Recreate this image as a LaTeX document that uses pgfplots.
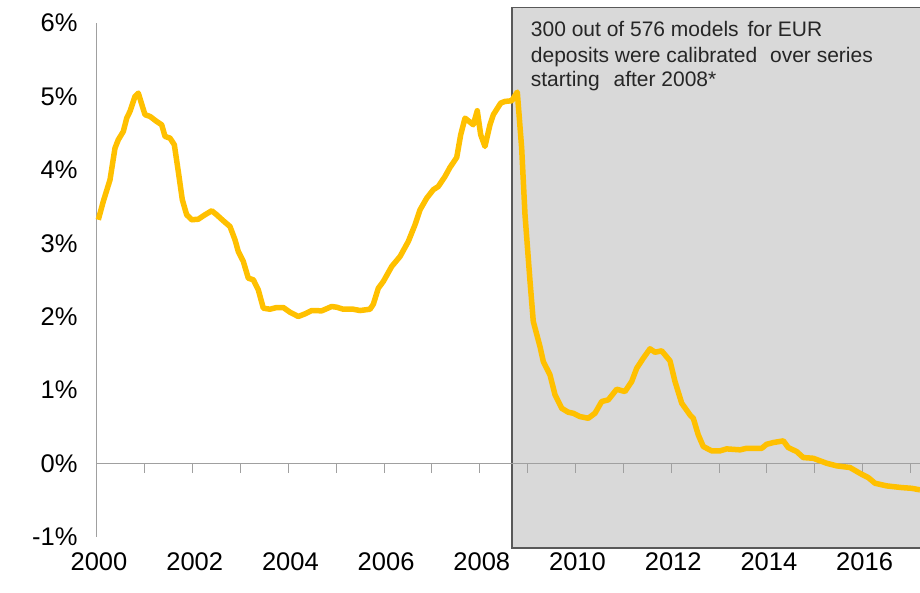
\documentclass[border=0pt]{standalone}
\usepackage{pgfplots}
\pgfplotsset{compat=1.18}
\usepackage{fontspec}
\setmainfont{Liberation Sans}
\definecolor{gold}{HTML}{FFC000}
\definecolor{boxgray}{HTML}{D9D9D9}
\definecolor{boxedge}{HTML}{595959}
\definecolor{axgray}{HTML}{A0A0A0}
\definecolor{txt}{HTML}{262626}
\begin{document}
\begin{tikzpicture}
\path[use as bounding box] (-97pt,-56pt) rectangle (823pt,537pt);
\begin{axis}[
  at={(0pt,0pt)}, anchor=south west,
  scale only axis, width=823pt, height=514pt,
  xmin=2000, xmax=2017.2, ymin=-1, ymax=6,
  clip=false,
  axis y line*=left, axis x line*=bottom,
  x axis line style={draw=none},
  y axis line style={draw=axgray, line width=1pt},
  xtick={2000,2002,2004,2006,2008,2010,2012,2014,2016},
  xticklabels={2000,2002,2004,2006,2008,2010,2012,2014,2016},
  ytick={-1,0,1,2,3,4,5,6},
  yticklabels={-1\%,0\%,1\%,2\%,3\%,4\%,5\%,6\%},
  major tick length=0pt,
  tick style={draw=none},
  tick label style={font=\fontsize{25.5}{30}\selectfont},
  xticklabel style={yshift=-12pt, xshift=2pt},
  yticklabel style={xshift=-16pt},
]
\fill[boxgray, draw=boxedge, line width=1.5pt] (axis cs:2008.673,-1.153) rectangle (axis cs:2017.8,6.214);
\draw[axgray, line width=1.2pt] (axis cs:2000,0) -- (axis cs:2017.2,0);
\pgfplotsinvokeforeach{2001,2002,2003,2004,2005,2006,2007,2008,2009,2010,2011,2012,2013,2014,2015,2016,2017}{
  \draw[axgray, line width=1pt] (axis cs:#1,0) -- ++(0pt,-9pt);
}
\node[anchor=base west, inner sep=0pt, text=txt, font=\fontsize{21}{24}\selectfont] at (axis cs:2009.064,5.810) {300 out of 576 models\hspace{3pt} for EUR};
\node[anchor=base west, inner sep=0pt, text=txt, font=\fontsize{21}{24}\selectfont] at (axis cs:2009.064,5.461) {deposits were calibrated\hspace{7pt} over series};
\node[anchor=base west, inner sep=0pt, text=txt, font=\fontsize{21}{24}\selectfont] at (axis cs:2009.064,5.138) {starting\hspace{8pt} after 2008*};
\addplot[gold, line width=5.5pt, line join=round] coordinates {
(2000.027,3.320) (2000.131,3.569) (2000.272,3.865) (2000.376,4.296) (2000.445,4.410)
(2000.550,4.523) (2000.621,4.704) (2000.689,4.796) (2000.794,5.000) (2000.863,5.045)
(2001.003,4.751) (2001.107,4.728) (2001.247,4.659) (2001.352,4.614) (2001.422,4.455)
(2001.526,4.432) (2001.616,4.342) (2001.699,3.978) (2001.783,3.593) (2001.874,3.388)
(2001.979,3.320) (2002.117,3.328) (2002.257,3.388) (2002.397,3.443) (2002.502,3.388)
(2002.639,3.307) (2002.779,3.229) (2002.884,3.048) (2002.953,2.888) (2003.058,2.752)
(2003.162,2.525) (2003.267,2.503) (2003.371,2.366) (2003.476,2.116) (2003.615,2.102)
(2003.755,2.125) (2003.894,2.125) (2004.034,2.061) (2004.207,2.003) (2004.347,2.039)
(2004.487,2.084) (2004.696,2.080) (2004.905,2.139) (2005.010,2.129) (2005.147,2.102)
(2005.356,2.102) (2005.496,2.084) (2005.705,2.102) (2005.775,2.170) (2005.879,2.388)
(2005.984,2.480) (2006.159,2.684) (2006.333,2.820) (2006.506,3.025) (2006.646,3.252)
(2006.751,3.456) (2006.890,3.614) (2007.028,3.729) (2007.133,3.774) (2007.273,3.910)
(2007.377,4.033) (2007.518,4.169) (2007.601,4.478) (2007.691,4.704) (2007.864,4.614)
(2007.947,4.805) (2008.019,4.478) (2008.108,4.319) (2008.213,4.614) (2008.283,4.751)
(2008.437,4.909) (2008.526,4.932) (2008.667,4.941) (2008.784,5.059) (2008.875,4.296)
(2008.945,3.388) (2009.050,2.480) (2009.118,1.935) (2009.258,1.594) (2009.327,1.390)
(2009.467,1.208) (2009.572,0.936) (2009.712,0.753) (2009.849,0.699) (2009.954,0.685)
(2010.094,0.640) (2010.267,0.617) (2010.407,0.685) (2010.548,0.845) (2010.686,0.868)
(2010.861,1.012) (2011.034,0.981) (2011.174,1.117) (2011.279,1.298) (2011.417,1.435)
(2011.557,1.563) (2011.662,1.516) (2011.801,1.535) (2011.975,1.399) (2012.080,1.117)
(2012.220,0.822) (2012.393,0.663) (2012.462,0.617) (2012.566,0.391) (2012.671,0.232)
(2012.847,0.173) (2013.020,0.173) (2013.160,0.200) (2013.438,0.187) (2013.578,0.208)
(2013.891,0.208) (2013.996,0.263) (2014.134,0.286) (2014.343,0.309) (2014.447,0.218)
(2014.623,0.163) (2014.761,0.082) (2014.969,0.072) (2015.250,0.004) (2015.459,-0.031)
(2015.736,-0.054) (2015.981,-0.146) (2016.119,-0.191) (2016.260,-0.268) (2016.503,-0.304)
(2016.817,-0.327) (2017.026,-0.337) (2017.200,-0.358)
};
\end{axis}
\end{tikzpicture}
\end{document}
